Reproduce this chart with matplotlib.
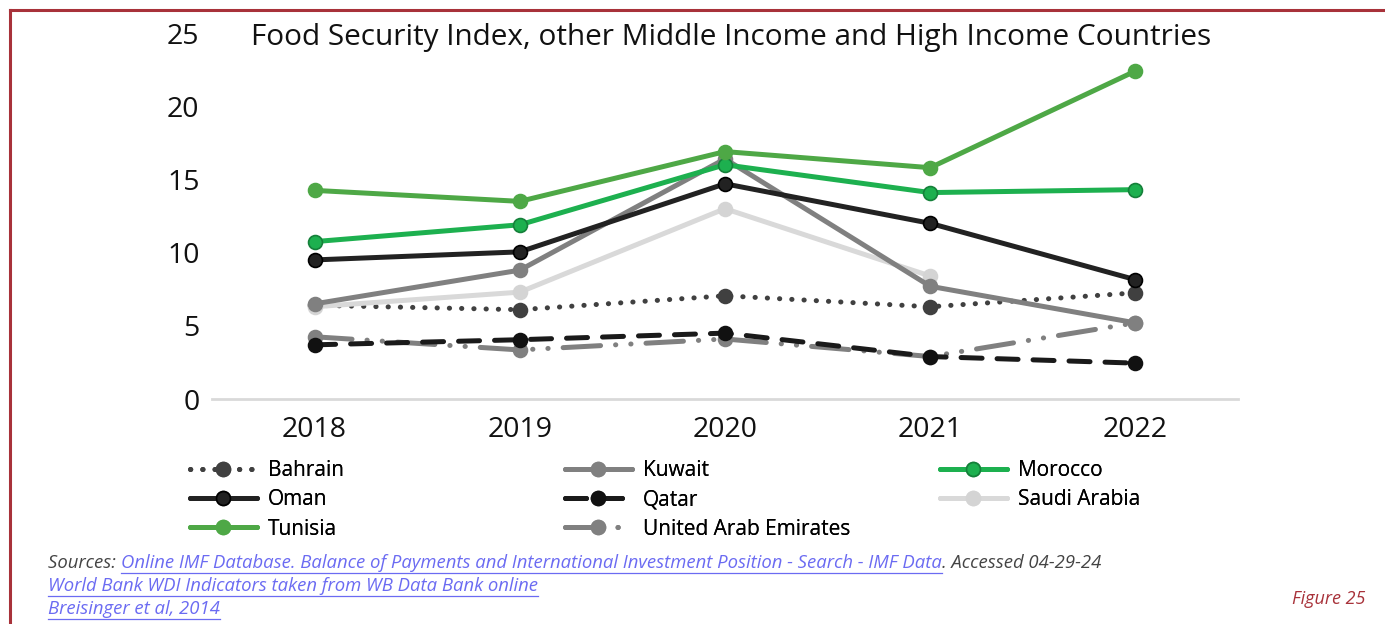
import numpy as np
import matplotlib
matplotlib.use("Agg")
import matplotlib.pyplot as plt
from matplotlib.lines import Line2D

plt.rcParams['font.family'] = ['Open Sans', 'DejaVu Sans']

years = ["2018", "2019", "2020", "2021", "2022"]

bahrain = [6.4, 6.1, 7.05, 6.3, 7.25]
kuwait = [6.5, 8.8, 16.4, 7.7, 5.2]
morocco = [10.75, 11.9, 16.0, 14.1, 14.3]
oman = [9.5, 10.05, 14.7, 12.0, 8.15]
qatar = [3.7, 4.05, 4.5, 2.9, 2.45]
saudi = [6.3, 7.3, 13.0, 8.4, np.nan]
tunisia = [14.25, 13.5, 16.9, 15.8, 22.4]
uae = [4.25, 3.35, 4.1, 2.9, 5.2]

fig = plt.figure(figsize=(13.85, 6.24), dpi=100)
W, H = 1385, 624

def fx(px):
    return px / W

def fy(py):
    return 1 - py / H

ax = fig.add_axes([fx(212), fy(399), fx(1238) - fx(212), fy(33) - fy(399)])
x = np.arange(len(years))

lw = 3.6
ms = 10
styles = {
    "Bahrain": dict(color="#404040", ls=(0, (0.05, 2.4)), mfc="#404040", mec="#404040"),
    "Kuwait": dict(color="#808080", ls="-", mfc="#808080", mec="#808080"),
    "Morocco": dict(color="#1db04f", ls="-", mfc="#1db04f", mec="#15803a"),
    "Oman": dict(color="#222222", ls="-", mfc="#222222", mec="#000000"),
    "Qatar": dict(color="#1a1a1a", ls=(0, (4.2, 3.0)), mfc="#111111", mec="#111111"),
    "Saudi Arabia": dict(color="#d9d9d9", ls="-", mfc="#d4d4d4", mec="#d4d4d4"),
    "Tunisia": dict(color="#4ea846", ls="-", mfc="#4ea846", mec="#4ea846"),
    "United Arab Emirates": dict(color="#808080", ls=(0, (7.5, 3.0, 0.05, 3.0, 0.05, 3.0)),
                                 mfc="#808080", mec="#808080"),
}
data = {
    "Bahrain": bahrain, "Kuwait": kuwait, "Morocco": morocco,
    "Oman": oman, "Qatar": qatar, "Saudi Arabia": saudi,
    "Tunisia": tunisia, "United Arab Emirates": uae,
}

# draw order: dashed series first, then solid ones on top
order = ["United Arab Emirates", "Qatar", "Bahrain", "Saudi Arabia",
         "Kuwait", "Oman", "Morocco", "Tunisia"]
lines = {}
for name in order:
    st = styles[name]
    ln, = ax.plot(x, data[name], color=st["color"], linestyle=st["ls"], lw=lw,
                  marker="o", ms=ms, mfc=st["mfc"], mec=st["mec"], mew=1.2,
                  dash_capstyle="round", solid_capstyle="round", label=name)
    lines[name] = ln

ax.set_xlim(-0.5, len(years) - 0.5)
ax.set_ylim(0, 25)
ax.set_yticks([0, 5, 10, 15, 20, 25])
ax.set_xticks(x)
ax.set_xticklabels(years)
ax.tick_params(axis="both", length=0, labelsize=20.5, colors="#111111")
ax.tick_params(axis="y", pad=9)
ax.tick_params(axis="x", pad=12)
for side in ["top", "right", "left"]:
    ax.spines[side].set_visible(False)
ax.spines["bottom"].set_color("#d9d9d9")
ax.spines["bottom"].set_linewidth(2)
ax.patch.set_alpha(0)

fig.text(fx(731), fy(37), "Food Security Index, other Middle Income and High Income Countries",
         ha="center", va="center", fontsize=21.4, color="#111111")

# legend laid out in three columns, row-major order
columns = [
    (190, ["Bahrain", "Oman", "Tunisia"]),
    (565, ["Kuwait", "Qatar", "United Arab Emirates"]),
    (940, ["Morocco", "Saudi Arabia"]),
]
for px, names in columns:
    leg = fig.legend([lines[n] for n in names], names, loc="upper left",
                     bbox_to_anchor=(fx(px), fy(460)), frameon=False,
                     fontsize=15, handlelength=3.2, handletextpad=0.55,
                     labelspacing=0.4, borderpad=0, borderaxespad=0, numpoints=1)
    fig.add_artist(leg)

# page border
fig.add_artist(Line2D([fx(10), 1], [fy(10), fy(10)], color="#a8323a", lw=2.2,
                      transform=fig.transFigure))
fig.add_artist(Line2D([fx(10), fx(10)], [fy(10), 0], color="#a8323a", lw=2.2,
                      transform=fig.transFigure))

# source notes with underlined links
gray = "#444444"
link = "#6b6bf2"
src_lines = [
    (563, [("Sources: ", gray, False),
           ("Online IMF Database. Balance of Payments and International Investment Position - Search - IMF Data", link, True),
           (". Accessed 04-29-24", gray, False)]),
    (586, [("World Bank WDI Indicators taken from WB Data Bank online", link, True)]),
    (609, [("Breisinger et al, 2014", link, True)]),
]
renderer = fig.canvas.get_renderer()
for py, parts in src_lines:
    cur = 48
    for txt, col, underline in parts:
        t = fig.text(fx(cur), fy(py), txt, ha="left", va="center", fontsize=13.3,
                     style="italic", color=col)
        bb = t.get_window_extent(renderer)
        if underline:
            yl = fy(py + 10)
            fig.add_artist(Line2D([fx(cur), fx(cur + bb.width)], [yl, yl], color=col,
                                  lw=0.9, transform=fig.transFigure))
        cur += bb.width

fig.text(fx(1365), fy(599), "Figure 25", ha="right", va="center", fontsize=13,
         style="italic", color="#a8323a")

fig.savefig("out.png", dpi=100)
